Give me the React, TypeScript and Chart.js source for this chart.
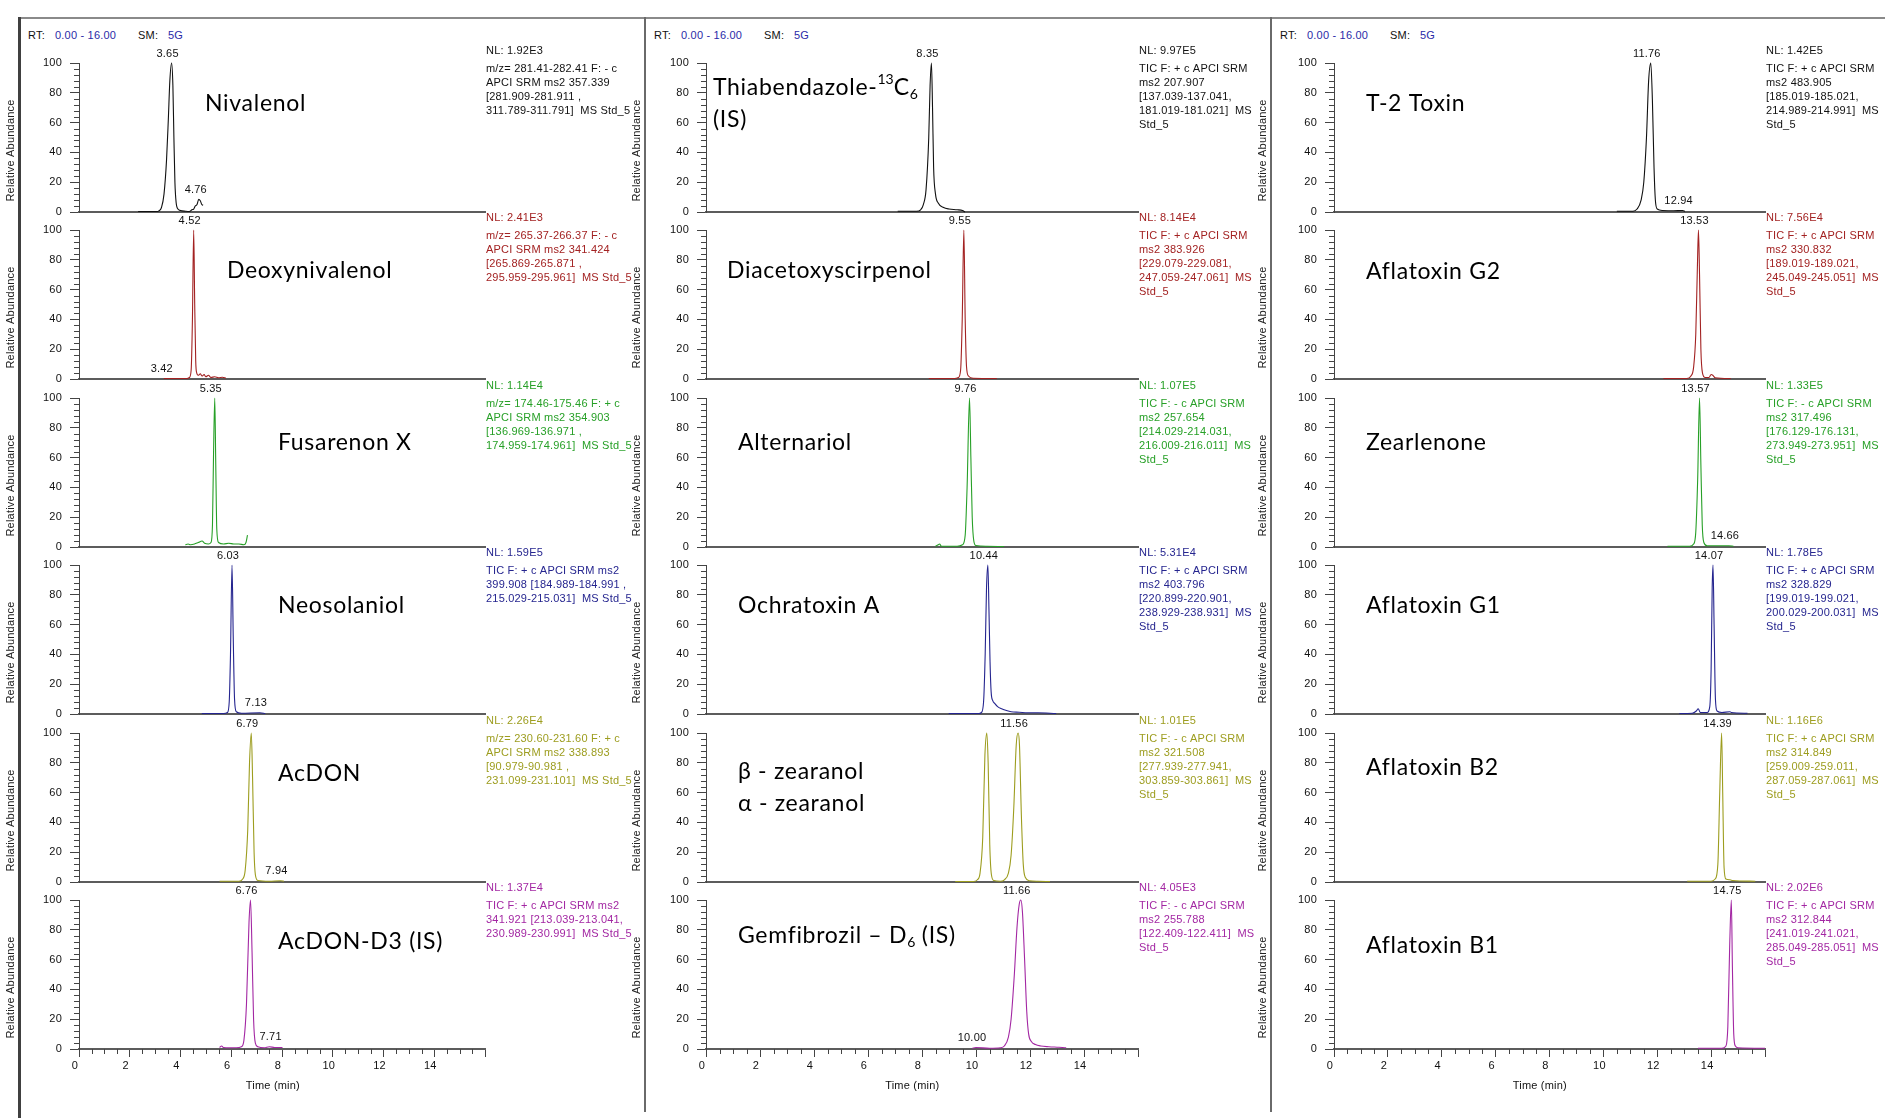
import React, { useEffect, useRef } from 'react';
import { Chart, registerables } from 'chart.js';

Chart.register(...registerables);

// ---------------- DATA: [retention time (min), relative abundance (%)] ----------------
// Column 1
const NIVALENOL = [[2.33,0.3],[3.05,0.3],[3.15,0.8],[3.25,3],[3.35,12],[3.45,35],[3.52,62],[3.58,88],[3.65,100],[3.7,85],[3.74,50],[3.78,20],[3.83,6],[3.9,2],[4.0,1],[4.2,0.5],[4.35,0.3],[4.45,1.5],[4.52,2],[4.58,4],[4.65,5],[4.72,8.5],[4.78,7.5],[4.84,5],[4.89,4.5]];
const DEOXYNIVALENOL = [[3.34,0.3],[4.25,0.3],[4.35,1],[4.42,6],[4.47,40],[4.52,100],[4.56,50],[4.6,12],[4.64,4],[4.7,2.5],[4.78,3.5],[4.85,2],[4.93,3],[5.0,1.5],[5.1,2.5],[5.2,1],[5.35,1.5],[5.5,0.8],[5.65,1.2],[5.79,0.5]];
const FUSARENON_X = [[4.19,1.5],[4.3,2],[4.4,1.5],[4.55,2],[4.7,3],[4.85,4],[4.95,2.5],[5.1,2],[5.2,3],[5.26,15],[5.3,60],[5.35,100],[5.39,55],[5.43,12],[5.5,3],[5.7,2],[5.9,2.5],[6.1,2],[6.3,2],[6.5,1.5],[6.58,3],[6.64,8]];
const NEOSOLANIOL = [[4.84,0.3],[5.7,0.3],[5.85,1],[5.92,8],[5.97,40],[6.03,100],[6.08,50],[6.13,10],[6.2,1.5],[6.4,0.5],[7.13,0.8],[7.34,0.3]];
const ACDON = [[5.54,0.5],[6.3,0.5],[6.45,2],[6.55,8],[6.65,35],[6.72,80],[6.79,100],[6.84,70],[6.9,20],[6.95,5],[7.05,1],[7.5,0.5],[7.94,0.8],[8.08,0.5]];
const ACDON_D3 = [[5.54,1],[5.62,2],[5.7,1],[6.2,0.8],[6.4,1.5],[6.5,6],[6.6,30],[6.7,85],[6.76,100],[6.82,65],[6.88,20],[6.95,4],[7.05,1.5],[7.3,0.8],[7.5,1.5],[7.71,1],[8.02,1]];
// Column 2
const THIABENDAZOLE = [[7.1,0.5],[7.8,0.5],[7.95,1.5],[8.05,5],[8.15,15],[8.25,50],[8.3,85],[8.35,100],[8.39,70],[8.43,30],[8.5,12],[8.6,6],[8.8,3],[9.0,2],[9.3,1.5],[9.5,1],[9.59,0]];
const DIACETOXYSCIRPENOL = [[8.25,0.3],[9.2,0.3],[9.35,1],[9.43,6],[9.49,40],[9.55,100],[9.6,40],[9.65,8],[9.72,2],[9.9,0.5],[10.77,0.3]];
const ALTERNARIOL = [[8.5,0.5],[8.6,1.5],[8.65,2],[8.72,0.5],[9.3,0.5],[9.5,1.5],[9.6,8],[9.67,40],[9.76,100],[9.81,60],[9.86,20],[9.92,4],[10.0,1],[10.4,0.5],[11.04,0.3]];
const OCHRATOXIN_A = [[8.99,0.3],[10.1,0.3],[10.2,1],[10.28,8],[10.34,40],[10.39,85],[10.44,100],[10.48,70],[10.52,35],[10.56,15],[10.62,9],[10.7,7],[10.8,5],[10.95,3.5],[11.1,2.5],[11.3,1.5],[11.6,1.2],[11.9,0.8],[12.3,0.8],[12.97,0.3]];
const ZEARANOL = [[9.23,0.3],[9.9,0.3],[10.05,1.5],[10.15,6],[10.25,30],[10.33,85],[10.4,100],[10.45,80],[10.51,25],[10.57,5],[10.66,1],[10.9,0.5],[11.05,1.5],[11.2,6],[11.3,18],[11.4,50],[11.49,92],[11.56,100],[11.61,92],[11.68,45],[11.75,12],[11.83,3],[11.98,0.8],[12.3,0.5],[12.74,0.3]];
const GEMFIBROZIL_D6 = [[9.86,0.5],[10.0,1],[10.5,0.5],[10.9,0.8],[11.05,2],[11.2,8],[11.3,20],[11.42,50],[11.52,82],[11.6,97],[11.66,100],[11.72,92],[11.8,60],[11.88,25],[11.95,10],[12.05,5],[12.2,3],[12.4,2],[12.7,1.5],[13.0,1.2],[13.2,1],[13.34,0.8]];
// Column 3
const T2_TOXIN = [[10.5,0.5],[11.1,0.5],[11.25,2],[11.4,8],[11.5,20],[11.6,50],[11.68,88],[11.76,100],[11.82,75],[11.88,30],[11.93,8],[12.0,2],[12.2,1],[12.6,0.8],[12.94,1],[13.03,0.5]];
const AFLATOXIN_G2 = [[12.23,0.3],[13.1,0.3],[13.25,2],[13.35,8],[13.43,30],[13.49,75],[13.53,100],[13.57,70],[13.62,20],[13.68,4],[13.78,1],[13.92,1],[14.0,3],[14.06,2.5],[14.15,0.8],[14.73,0.3]];
const ZEARLENONE = [[12.38,0.5],[13.2,0.5],[13.35,2],[13.43,10],[13.5,45],[13.57,100],[13.62,55],[13.67,15],[13.73,3],[13.85,0.8],[14.66,0.8],[14.83,0.5]];
const AFLATOXIN_G1 = [[12.82,0.3],[13.3,0.5],[13.45,2],[13.52,3.5],[13.6,1],[13.85,1],[13.95,5],[14.0,30],[14.04,85],[14.07,100],[14.11,60],[14.16,10],[14.22,2],[14.4,1],[14.7,1.5],[14.75,1],[15.35,0.5]];
const AFLATOXIN_B2 = [[13.11,0.5],[14.0,0.5],[14.15,2],[14.25,12],[14.32,60],[14.39,100],[14.43,60],[14.48,10],[14.55,2],[14.7,1.5],[14.8,1],[15.64,0.5]];
const AFLATOXIN_B1 = [[13.51,0.5],[14.4,0.5],[14.55,2],[14.62,15],[14.69,70],[14.75,100],[14.79,55],[14.84,10],[14.9,2],[15.0,0.8],[16.0,0.5]];

// Peak labels: [time, abundance at label]
const NIVALENOL_PEAKS = [[3.65,100],[4.76,8.5]];
const DEOXYNIVALENOL_PEAKS = [[4.52,100],[3.42,0.5]];
const FUSARENON_X_PEAKS = [[5.35,100]];
const NEOSOLANIOL_PEAKS = [[6.03,100],[7.13,1]];
const ACDON_PEAKS = [[6.79,100],[7.94,1]];
const ACDON_D3_PEAKS = [[6.76,100],[7.71,1.5]];
const THIABENDAZOLE_PEAKS = [[8.35,100]];
const DIACETOXYSCIRPENOL_PEAKS = [[9.55,100]];
const ALTERNARIOL_PEAKS = [[9.76,100]];
const OCHRATOXIN_A_PEAKS = [[10.44,100]];
const ZEARANOL_PEAKS = [[11.56,100]];
const GEMFIBROZIL_D6_PEAKS = [[11.66,100],[10.0,1]];
const T2_TOXIN_PEAKS = [[11.76,100],[12.94,1]];
const AFLATOXIN_G2_PEAKS = [[13.53,100]];
const ZEARLENONE_PEAKS = [[13.57,100],[14.66,1]];
const AFLATOXIN_G1_PEAKS = [[14.07,100]];
const AFLATOXIN_B2_PEAKS = [[14.39,100]];
const AFLATOXIN_B1_PEAKS = [[14.75,100]];

// Scan information texts
const NIVALENOL_INFO = ['NL: 1.92E3','m/z= 281.41-282.41 F: - c','APCI SRM ms2 357.339','[281.909-281.911 ,','311.789-311.791]  MS Std_5'];
const DEOXYNIVALENOL_INFO = ['NL: 2.41E3','m/z= 265.37-266.37 F: - c','APCI SRM ms2 341.424','[265.869-265.871 ,','295.959-295.961]  MS Std_5'];
const FUSARENON_X_INFO = ['NL: 1.14E4','m/z= 174.46-175.46 F: + c','APCI SRM ms2 354.903','[136.969-136.971 ,','174.959-174.961]  MS Std_5'];
const NEOSOLANIOL_INFO = ['NL: 1.59E5','TIC F: + c APCI SRM ms2','399.908 [184.989-184.991 ,','215.029-215.031]  MS Std_5'];
const ACDON_INFO = ['NL: 2.26E4','m/z= 230.60-231.60 F: + c','APCI SRM ms2 338.893','[90.979-90.981 ,','231.099-231.101]  MS Std_5'];
const ACDON_D3_INFO = ['NL: 1.37E4','TIC F: + c APCI SRM ms2','341.921 [213.039-213.041,','230.989-230.991]  MS Std_5'];
const THIABENDAZOLE_INFO = ['NL: 9.97E5','TIC F: + c APCI SRM','ms2 207.907','[137.039-137.041,','181.019-181.021]  MS','Std_5'];
const DIACETOXYSCIRPENOL_INFO = ['NL: 8.14E4','TIC F: + c APCI SRM','ms2 383.926','[229.079-229.081,','247.059-247.061]  MS','Std_5'];
const ALTERNARIOL_INFO = ['NL: 1.07E5','TIC F: - c APCI SRM','ms2 257.654','[214.029-214.031,','216.009-216.011]  MS','Std_5'];
const OCHRATOXIN_A_INFO = ['NL: 5.31E4','TIC F: + c APCI SRM','ms2 403.796','[220.899-220.901,','238.929-238.931]  MS','Std_5'];
const ZEARANOL_INFO = ['NL: 1.01E5','TIC F: - c APCI SRM','ms2 321.508','[277.939-277.941,','303.859-303.861]  MS','Std_5'];
const GEMFIBROZIL_D6_INFO = ['NL: 4.05E3','TIC F: - c APCI SRM','ms2 255.788','[122.409-122.411]  MS','Std_5'];
const T2_TOXIN_INFO = ['NL: 1.42E5','TIC F: + c APCI SRM','ms2 483.905','[185.019-185.021,','214.989-214.991]  MS','Std_5'];
const AFLATOXIN_G2_INFO = ['NL: 7.56E4','TIC F: + c APCI SRM','ms2 330.832','[189.019-189.021,','245.049-245.051]  MS','Std_5'];
const ZEARLENONE_INFO = ['NL: 1.33E5','TIC F: - c APCI SRM','ms2 317.496','[176.129-176.131,','273.949-273.951]  MS','Std_5'];
const AFLATOXIN_G1_INFO = ['NL: 1.78E5','TIC F: + c APCI SRM','ms2 328.829','[199.019-199.021,','200.029-200.031]  MS','Std_5'];
const AFLATOXIN_B2_INFO = ['NL: 1.16E6','TIC F: + c APCI SRM','ms2 314.849','[259.009-259.011,','287.059-287.061]  MS','Std_5'];
const AFLATOXIN_B1_INFO = ['NL: 2.02E6','TIC F: + c APCI SRM','ms2 312.844','[241.019-241.021,','285.049-285.051]  MS','Std_5'];

// Compound names (^{..} superscript, _{..} subscript)
const COL1_NAMES = [['Nivalenol'],['Deoxynivalenol'],['Fusarenon X'],['Neosolaniol'],['AcDON'],['AcDON-D3 (IS)']];
const COL2_NAMES = [['Thiabendazole-^{13}C_{6}','(IS)'],['Diacetoxyscirpenol'],['Alternariol'],['Ochratoxin A'],['β - zearanol','α - zearanol'],['Gemfibrozil – D_{6} (IS)']];
const COL3_NAMES = [['T-2 Toxin'],['Aflatoxin G2'],['Zearlenone'],['Aflatoxin G1'],['Aflatoxin B2'],['Aflatoxin B1']];

const X_TICKS_STEP = 2;
const X_RANGE = [0, 16];
const Y_TICKS_STEP = 20;

// ---------------- LAYOUT / STYLE ----------------
const ROW_COLORS = ['#111111', '#a32222', '#27a027', '#25258f', '#9d9d1f', '#a327a3'];
const COLS = [
  { line: 19, plotLeft: 79, plotW: 406, rightPad: 160, lineW: 3, lineC: '#404040' },
  { line: 645, plotLeft: 706, plotW: 432, rightPad: 160, lineW: 2, lineC: '#6a6a6a' },
  { line: 1271, plotLeft: 1334, plotW: 431, rightPad: 120, lineW: 2, lineC: '#6a6a6a' },
];
const ROW_TOPS = [63, 230, 398, 565, 733, 900];
const PLOT_H = 149;
const TOP_PAD = 30;
const AXIS_W = 79;
const TITLE_OFFSETS = [
  [[126, 41], [148, 41], [199, 45], [199, 41], [199, 41], [199, 42]],
  [[7, 25], [21, 41], [32, 45], [32, 41], [32, 39], [32, 36]],
  [[32, 41], [32, 42], [32, 45], [32, 41], [32, 35], [32, 46]],
];
const SMALL_FAMILY = '"Liberation Sans", Arial, sans-serif';
const SMALL_SPACING = '0.2px';
const TITLE_FAMILY = 'Lato, "Noto Sans", "DejaVu Sans", sans-serif';
const TITLE_SPACING = '0.7px';

const COLUMN_DATA = [
  [
    [NIVALENOL, NIVALENOL_PEAKS, NIVALENOL_INFO],
    [DEOXYNIVALENOL, DEOXYNIVALENOL_PEAKS, DEOXYNIVALENOL_INFO],
    [FUSARENON_X, FUSARENON_X_PEAKS, FUSARENON_X_INFO],
    [NEOSOLANIOL, NEOSOLANIOL_PEAKS, NEOSOLANIOL_INFO],
    [ACDON, ACDON_PEAKS, ACDON_INFO],
    [ACDON_D3, ACDON_D3_PEAKS, ACDON_D3_INFO],
  ],
  [
    [THIABENDAZOLE, THIABENDAZOLE_PEAKS, THIABENDAZOLE_INFO],
    [DIACETOXYSCIRPENOL, DIACETOXYSCIRPENOL_PEAKS, DIACETOXYSCIRPENOL_INFO],
    [ALTERNARIOL, ALTERNARIOL_PEAKS, ALTERNARIOL_INFO],
    [OCHRATOXIN_A, OCHRATOXIN_A_PEAKS, OCHRATOXIN_A_INFO],
    [ZEARANOL, ZEARANOL_PEAKS, ZEARANOL_INFO],
    [GEMFIBROZIL_D6, GEMFIBROZIL_D6_PEAKS, GEMFIBROZIL_D6_INFO],
  ],
  [
    [T2_TOXIN, T2_TOXIN_PEAKS, T2_TOXIN_INFO],
    [AFLATOXIN_G2, AFLATOXIN_G2_PEAKS, AFLATOXIN_G2_INFO],
    [ZEARLENONE, ZEARLENONE_PEAKS, ZEARLENONE_INFO],
    [AFLATOXIN_G1, AFLATOXIN_G1_PEAKS, AFLATOXIN_G1_INFO],
    [AFLATOXIN_B2, AFLATOXIN_B2_PEAKS, AFLATOXIN_B2_INFO],
    [AFLATOXIN_B1, AFLATOXIN_B1_PEAKS, AFLATOXIN_B1_INFO],
  ],
];
const COLUMN_NAMES = [COL1_NAMES, COL2_NAMES, COL3_NAMES];

type PanelSpec = {
  key: string; col: number; row: number; trace: number[][]; peaks: number[][]; info: string[];
  name: string[]; color: string; bottom: boolean;
  left: number; top: number; width: number; height: number; titleX: number; tdx: number; tdy: number;
};

const PANELS: PanelSpec[] = [];
COLUMN_DATA.forEach((rows, c) => {
  const col = COLS[c];
  rows.forEach((r, i) => {
    const bottom = i === rows.length - 1;
    const left = col.plotLeft - AXIS_W;
    PANELS.push({
      key: `${c}-${i}`, col: c, row: i, trace: r[0] as number[][], peaks: r[1] as number[][], info: r[2] as string[],
      name: COLUMN_NAMES[c][i], color: ROW_COLORS[i], bottom,
      left, top: ROW_TOPS[i] - TOP_PAD,
      width: AXIS_W + col.plotW + col.rightPad,
      height: TOP_PAD + PLOT_H + (bottom ? 50 : 6),
      titleX: col.line - 8 - left,
      tdx: TITLE_OFFSETS[c][i][0], tdy: TITLE_OFFSETS[c][i][1],
    });
  });
});

function setSpacing(ctx: any, v: string) {
  if ('letterSpacing' in ctx) ctx.letterSpacing = v;
}

function drawRich(ctx: CanvasRenderingContext2D, text: string, x: number, y: number) {
  const parts = text.split(/(\^\{[^}]*\}|_\{[^}]*\})/).filter(Boolean);
  let cx = x;
  for (const p of parts) {
    let s = p, size = 23, dy = 0, sp = TITLE_SPACING;
    if (p.startsWith('^{')) { s = p.slice(2, -1); size = 14; dy = -9; sp = '0px'; }
    else if (p.startsWith('_{')) { s = p.slice(2, -1); size = 14; dy = 6; sp = '0px'; }
    ctx.font = `${size}px ${TITLE_FAMILY}`;
    setSpacing(ctx, sp);
    ctx.fillText(s, cx, y + dy);
    cx += ctx.measureText(s).width;
  }
}

const panelPlugin = {
  id: 'panelDecor',
  beforeDraw(chart: any) {
    setSpacing(chart.ctx, SMALL_SPACING);
  },
  afterDraw(chart: any, _args: any, opts: any) {
    const spec: PanelSpec = opts.spec;
    if (!spec) return;
    const { ctx, chartArea: a } = chart;
    const x = chart.scales.x, y = chart.scales.y;
    ctx.save();
    setSpacing(ctx, SMALL_SPACING);
    // minor ticks
    ctx.strokeStyle = '#444';
    ctx.lineWidth = 1;
    ctx.beginPath();
    for (let v = 0; v <= 100; v += 4) {
      if (v % Y_TICKS_STEP === 0) continue;
      const py = Math.round(y.getPixelForValue(v)) + 0.5;
      ctx.moveTo(a.left - 5, py); ctx.lineTo(a.left, py);
    }
    if (spec.bottom) {
      for (let t = 0.5; t < X_RANGE[1]; t += 0.5) {
        if (t % X_TICKS_STEP === 0) continue;
        const px = Math.round(x.getPixelForValue(t)) + 0.5;
        ctx.moveTo(px, a.bottom); ctx.lineTo(px, a.bottom + 5);
      }
    }
    ctx.stroke();

    // y axis title
    ctx.save();
    ctx.translate(spec.titleX, (a.top + a.bottom) / 2 + 13);
    ctx.rotate(-Math.PI / 2);
    ctx.font = `11px ${SMALL_FAMILY}`;
    ctx.fillStyle = '#222';
    ctx.textAlign = 'center';
    ctx.textBaseline = 'middle';
    ctx.fillText('Relative Abundance', 0, 0);
    ctx.restore();

    // peak labels
    ctx.font = `11px ${SMALL_FAMILY}`;
    ctx.fillStyle = '#111';
    ctx.textAlign = 'center';
    ctx.textBaseline = 'middle';
    for (const [t, v] of spec.peaks) {
      ctx.fillText(t.toFixed(2), x.getPixelForValue(t) - 4, y.getPixelForValue(v) - 9.5);
    }

    // info text
    ctx.fillStyle = spec.color;
    ctx.textAlign = 'left';
    spec.info.forEach((line, i) => {
      const ly = i === 0 ? a.top - 12.5 : a.top + 5.5 + 14 * (i - 1);
      ctx.fillText(line, a.right + 1, ly);
    });

    // x-axis title
    if (spec.bottom) {
      ctx.fillStyle = '#111';
      ctx.textAlign = 'center';
      ctx.fillText('Time (min)', x.getPixelForValue(7.64), a.bottom + 36.5);
    }

    // compound name
    ctx.fillStyle = '#000';
    ctx.textAlign = 'left';
    ctx.textBaseline = 'middle';
    spec.name.forEach((line, i) => {
      drawRich(ctx, line, a.left + spec.tdx, a.top + spec.tdy + 32 * i);
    });
    ctx.restore();
  },
};

function Panel({ spec }: { spec: PanelSpec }) {
  const ref = useRef<HTMLCanvasElement>(null);
  useEffect(() => {
    if (!ref.current) return;
    const col = COLS[spec.col];
    const chart = new Chart(ref.current, {
      type: 'line',
      data: {
        datasets: [{
          data: spec.trace.map(([t, v]) => ({ x: t, y: v })),
          borderColor: spec.color,
          borderWidth: 1.1,
          pointRadius: 0,
          fill: false,
          cubicInterpolationMode: 'monotone',
          clip: false,
        } as any],
      },
      options: {
        responsive: false,
        maintainAspectRatio: false,
        animation: false,
        devicePixelRatio: 1,
        events: [],
        layout: { padding: { left: 0, top: TOP_PAD, right: col.rightPad, bottom: 0 } },
        plugins: {
          legend: { display: false },
          tooltip: { enabled: false },
          panelDecor: { spec },
        } as any,
        scales: {
          x: {
            type: 'linear',
            position: 'bottom',
            min: X_RANGE[0],
            max: X_RANGE[1],
            afterFit: (s: any) => { s.height = spec.bottom ? 50 : 6; s.paddingLeft = 0; s.paddingRight = 0; },
            border: { display: true, color: '#5c5c5c', width: 2 },
            grid: { display: true, drawOnChartArea: false, drawTicks: spec.bottom, tickLength: 8, color: '#444', lineWidth: 1 },
            ticks: {
              display: spec.bottom,
              stepSize: X_TICKS_STEP,
              autoSkip: false,
              maxRotation: 0,
              padding: 2,
              labelOffset: -4,
              color: '#111',
              font: { family: SMALL_FAMILY, size: 11 },
              callback: (v: any) => (Number(v) >= X_RANGE[1] ? '' : String(v)),
            },
          },
          y: {
            type: 'linear',
            min: 0,
            max: 100,
            afterFit: (s: any) => { s.width = AXIS_W; s.paddingTop = 0; s.paddingBottom = 0; },
            border: { display: true, color: '#444', width: 1 },
            grid: { display: true, drawOnChartArea: false, drawTicks: true, tickLength: 9, color: '#444', lineWidth: 1 },
            ticks: {
              stepSize: Y_TICKS_STEP,
              padding: 8,
              color: '#111',
              font: { family: SMALL_FAMILY, size: 11 },
            },
          },
        },
      } as any,
      plugins: [panelPlugin as any],
    });
    return () => chart.destroy();
  }, [spec]);
  return (
    <canvas
      ref={ref}
      width={spec.width}
      height={spec.height}
      style={{ position: 'absolute', left: spec.left, top: spec.top, width: spec.width, height: spec.height }}
    />
  );
}

function Header({ x }: { x: number }) {
  const blue = '#2a2aa8';
  const base: React.CSSProperties = { position: 'absolute', top: 0, whiteSpace: 'pre' };
  return (
    <div style={{ position: 'absolute', left: x, top: 29, height: 14, font: `11px ${SMALL_FAMILY}`, lineHeight: '13px', letterSpacing: SMALL_SPACING, color: '#111' }}>
      <span style={{ ...base, left: 0 }}>RT:</span>
      <span style={{ ...base, left: 27, color: blue }}>0.00 - 16.00</span>
      <span style={{ ...base, left: 110 }}>SM:</span>
      <span style={{ ...base, left: 140, color: blue }}>5G</span>
    </div>
  );
}

export default function App() {
  return (
    <div style={{ position: 'absolute', left: 0, top: 0, width: 1885, height: 1118, background: '#fff', overflow: 'hidden' }}>
      <div style={{ position: 'absolute', left: 19, top: 17, width: 1866, height: 2, background: '#8a8a8a' }} />
      {COLS.map((c, i) => (
        <div key={`l${i}`} style={{ position: 'absolute', left: c.line - c.lineW / 2, top: 17, width: c.lineW, height: i === 0 ? 1101 : 1095, background: c.lineC }} />
      ))}
      {COLS.map((c, i) => <Header key={`h${i}`} x={c.line + 9} />)}
      {PANELS.map((p) => <Panel key={p.key} spec={p} />)}
    </div>
  );
}
